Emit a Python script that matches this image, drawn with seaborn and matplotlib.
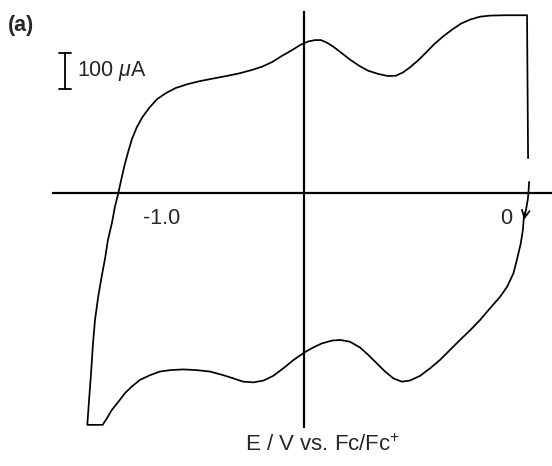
import numpy as np
import pandas as pd
import matplotlib
matplotlib.use("Agg")
import matplotlib.pyplot as plt
import matplotlib.transforms as mtransforms
import seaborn as sns

# Cyclic voltammogram: potential (V vs. Fc/Fc+) and current (uA), in scan order.
# Cathodic sweep from the switching potential down to the negative limit
cathodic_E = [0.045, 0.043, 0.041, 0.036, 0.030, 0.027, 0.021, 0.011, -0.000,
              -0.018, -0.038, -0.067, -0.096, -0.124, -0.153, -0.182, -0.211,
              -0.239, -0.268, -0.297, -0.320, -0.344, -0.368, -0.392, -0.416,
              -0.440, -0.469, -0.497, -0.521, -0.550, -0.574, -0.598, -0.631,
              -0.660, -0.689, -0.717, -0.746, -0.775, -0.803, -0.832, -0.870,
              -0.908, -0.947, -0.985, -1.014, -1.042, -1.071, -1.095, -1.114,
              -1.133, -1.152, -1.166, -1.178, -1.222]
cathodic_I = [31, 0, -19, -47, -66, -103, -140, -181, -223,
              -260, -288, -320, -353, -381, -408, -436, -464,
              -487, -508, -521, -524, -515, -496, -473, -450,
              -429, -413, -408, -410, -418, -429, -442, -464,
              -487, -508, -521, -526, -524, -515, -506, -496,
              -492, -490, -492, -496, -506, -519, -538, -556,
              -580, -603, -626, -644, -644]
# Anodic sweep back up to the positive limit
anodic_E = [-1.217, -1.211, -1.206, -1.200, -1.191, -1.181, -1.171, -1.163,
            -1.151, -1.143, -1.133, -1.125, -1.115, -1.105, -1.094, -1.080,
            -1.064, -1.045, -1.022, -0.996, -0.968, -0.933, -0.899, -0.862,
            -0.824, -0.784, -0.750, -0.721, -0.692, -0.664, -0.635, -0.612,
            -0.589, -0.569, -0.552, -0.535, -0.517, -0.494, -0.469, -0.443,
            -0.417, -0.388, -0.360, -0.337, -0.317, -0.297, -0.274, -0.251,
            -0.228, -0.202, -0.176, -0.150, -0.124, -0.096, -0.067, -0.024,
            0.039, 0.042]
anodic_I = [-575, -497, -422, -353, -289, -233, -181, -131,
            -81, -39, 0, 36, 78, 114, 150, 183,
            211, 236, 261, 278, 292, 303, 311, 318,
            325, 333, 342, 351, 364, 381, 397, 411,
            421, 425, 425, 418, 407, 390, 371, 354,
            340, 331, 325, 326, 335, 349, 368, 390,
            413, 435, 454, 471, 482, 490, 493, 494,
            494, 97]

tick_positions = [-1.2, -1.0, -0.8, -0.6, -0.4, -0.2, 0.0]
tick_labels = ["", "-1.0", "", "", "", "", "0"]
scale_bar_uA = 100

E = cathodic_E + anodic_E
I = cathodic_I + anodic_I
cv = pd.DataFrame({"E": E, "I": I, "step": np.arange(len(E))})

sns.set_style("white")
plt.rcParams["font.family"] = ["Liberation Sans", "DejaVu Sans"]
plt.rcParams["mathtext.fontset"] = "custom"
plt.rcParams["mathtext.rm"] = "Liberation Sans"
plt.rcParams["mathtext.it"] = "Liberation Sans:italic"

W, H = 552, 466
fig = plt.figure(figsize=(W / 100, H / 100), dpi=100)
ax = fig.add_axes([53 / W, 1 - 427 / H, 1 - 53 / W, (427 - 12) / H])

sns.lineplot(data=cv, x="E", y="I", sort=False, estimator=None,
             color="black", linewidth=1.25, ax=ax)

ax.set_xlim(-1.3204, 0.1106)
ax.set_ylim(-650, 503)

# Axes drawn as crossing lines: current zero and a vertical reference at -0.6 V
for side in ("top", "right"):
    ax.spines[side].set_visible(False)
ax.spines["bottom"].set_position(("data", 0))
ax.spines["left"].set_position(("data", -0.6))
for side in ("bottom", "left"):
    ax.spines[side].set_linewidth(1.6)
    ax.spines[side].set_color("black")

ax.set_xticks(tick_positions)
ax.set_xticklabels(tick_labels, fontsize=15.5)
ax.tick_params(axis="x", direction="out", length=5, width=1.4, pad=6, color="black")
ax.set_yticks([])
ax.set_xlabel("")
ax.set_ylabel("")

# Nudge the tick labels slightly left of their ticks
for lab, shift in zip(ax.get_xticklabels(), [0, -3, 0, 0, 0, 0, -7]):
    if shift:
        lab.set_transform(lab.get_transform() +
                          mtransforms.ScaledTranslation(shift / 100, 0, fig.dpi_scale_trans))

# Direction-of-scan arrow on the cathodic sweep
ax.annotate("", xy=(0.029, -82), xytext=(0.036, -45),
            arrowprops=dict(arrowstyle="->", color="black", lw=1.2,
                            mutation_scale=14))

# Current scale bar
bar_x = -1.286
bar_top, bar_bottom = 390, 390 - scale_bar_uA
ax.plot([bar_x, bar_x], [bar_bottom, bar_top], color="black", lw=1.3, clip_on=False)
for yy in (bar_bottom, bar_top):
    ax.plot([bar_x - 0.017, bar_x + 0.017], [yy, yy], color="black", lw=1.3, clip_on=False)
ax.text(bar_x + 0.035, (bar_top + bar_bottom) / 2, r"100 $\mu$A",
        fontsize=15.5, va="center", ha="left")

fig.text(8 / W, 1 - 25 / H, "(a)", fontsize=15.5, fontweight="bold",
         ha="left", va="center")
fig.text(323 / W, 1 - 445 / H, r"E / V vs. Fc/Fc$^{\mathregular{+}}$",
         fontsize=16, ha="center", va="center")

fig.savefig("out.png", dpi=100)
